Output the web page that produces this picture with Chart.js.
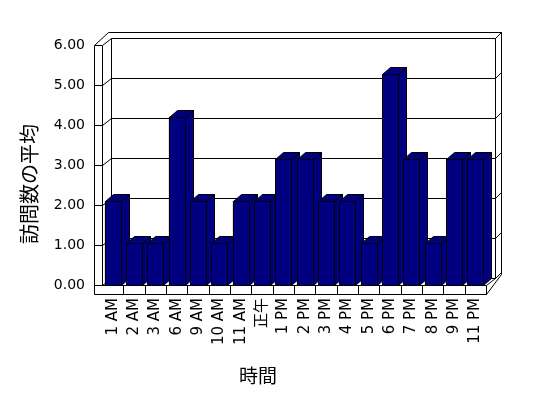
<!DOCTYPE html>
<html lang="ja">
<head>
<meta charset="utf-8">
<title>訪問数の平均</title>
<script src="https://cdn.jsdelivr.net/npm/chart.js@4.4.1/dist/chart.umd.min.js"></script>
<style>
  html, body { margin: 0; padding: 0; background: #fff; }
  canvas { display: block; }
</style>
</head>
<body>
<canvas id="chart" width="548" height="398"></canvas>
<script>
// hours of the day (x axis)
const hours = ["1 AM", "2 AM", "3 AM", "6 AM", "9 AM", "10 AM", "11 AM", "正午",
  "1 PM", "2 PM", "3 PM", "4 PM", "5 PM", "6 PM", "7 PM", "8 PM", "9 PM", "11 PM"];
// average number of visits
const avgVisits = [2, 1, 1, 4, 2, 1, 2, 2, 3, 3, 2, 2, 1, 5, 3, 1, 3, 3];
// value axis
const yMin = 0;
const yMax = 6;
const yStep = 1;
const yTitle = "訪問数の平均";
const xTitle = "時間";

const NAVY = "#000080";
const WALL = { dx: 9, dy: -7 };  // depth of the side / back walls
const SLAB = 6;                  // thickness of the back wall
const STRIP = 8;                 // front edge of left wall and floor
const BAR = { dx: 8, dy: -7 };   // depth of each bar

const px = v => Math.round(v) + 0.5;

function seg(ctx, x1, y1, x2, y2) {
  ctx.moveTo(px(x1), px(y1));
  ctx.lineTo(px(x2), px(y2));
}

// ------------------------------------------------
// 3D walls, floor and gridlines (behind the bars)
// ------------------------------------------------
const frame3d = {
  id: "frame3d",
  beforeDatasetsDraw(chart) {
    const { ctx, chartArea: a, scales } = chart;
    const yS = scales.y, xS = scales.x;
    const L = a.left, R = a.right, T = a.top, B = a.bottom;
    const bL = L + WALL.dx, bR = R + WALL.dx, bT = T + WALL.dy, bB = B + WALL.dy;

    ctx.save();
    ctx.strokeStyle = "#000";
    ctx.lineWidth = 1;
    ctx.beginPath();

    // back wall face
    seg(ctx, bL, bT, bL, bB);
    seg(ctx, bR, bT, bR, bB);
    seg(ctx, bL, bB, bR, bB);
    // back wall slab (top and right thickness)
    seg(ctx, bL - 3, bT - SLAB, bR + SLAB, bT - SLAB);
    seg(ctx, bR, bT, bR + SLAB, bT - SLAB);
    seg(ctx, bR + SLAB, bT - SLAB, bR + SLAB, bB - SLAB + 2);

    // gridlines on the back wall + left wall + slab
    yS.ticks.forEach(t => {
      const yf = yS.getPixelForValue(t.value);
      seg(ctx, L, yf, bL, yf + WALL.dy);
      seg(ctx, bL, yf + WALL.dy, bR, yf + WALL.dy);
      seg(ctx, bR, yf + WALL.dy, bR + SLAB, yf + WALL.dy - SLAB);
      seg(ctx, L - STRIP, yf, L, yf);
    });

    // left wall front strip
    seg(ctx, L - STRIP, T, L - STRIP, B + STRIP + 1);
    seg(ctx, L, T, L, B);
    seg(ctx, L - STRIP, T, bL - 3, bT - SLAB);

    // floor front strip
    seg(ctx, L - STRIP, B, R, B);
    seg(ctx, L - STRIP, B + STRIP + 1, R, B + STRIP + 1);
    seg(ctx, R, B, R, B + STRIP + 1);
    seg(ctx, R, B, bR, bB);
    seg(ctx, R, B + STRIP + 1, bR + SLAB, bB - SLAB + 2);
    for (let i = 1; i < hours.length; i++) {
      const xb = (xS.getPixelForValue(i - 1) + xS.getPixelForValue(i)) / 2;
      seg(ctx, xb, B, xb, B + STRIP + 1);
    }
    ctx.stroke();
    ctx.restore();
  },

  // redraw every bar as a box: side, top, then front
  afterDatasetsDraw(chart) {
    const { ctx } = chart;
    const meta = chart.getDatasetMeta(0);
    ctx.save();
    ctx.fillStyle = NAVY;
    ctx.strokeStyle = "#000";
    ctx.lineWidth = 1;
    meta.data.forEach(bar => {
      const { x, y, base, width } = bar.getProps(["x", "y", "base", "width"], true);
      const x1 = px(x - width / 2), x2 = px(x + width / 2);
      const top = px(y), bot = px(base);
      const dx = BAR.dx, dy = BAR.dy;

      ctx.beginPath();
      ctx.moveTo(x2, bot);
      ctx.lineTo(x2, top);
      ctx.lineTo(x2 + dx, top + dy);
      ctx.lineTo(x2 + dx, bot + dy);
      ctx.closePath();
      ctx.fill();
      ctx.stroke();

      ctx.beginPath();
      ctx.moveTo(x1, top);
      ctx.lineTo(x2, top);
      ctx.lineTo(x2 + dx, top + dy);
      ctx.lineTo(x1 + dx, top + dy);
      ctx.closePath();
      ctx.fill();
      ctx.stroke();

      ctx.beginPath();
      ctx.rect(x1, top, x2 - x1, bot - top);
      ctx.fill();
      ctx.stroke();
    });
    ctx.restore();
  },

  // axis titles
  afterDraw(chart) {
    const { ctx } = chart;
    ctx.save();
    ctx.fillStyle = "#000";
    ctx.textAlign = "center";
    ctx.textBaseline = "middle";
    ctx.font = "19px 'Noto Sans CJK JP'";
    ctx.fillText(xTitle, 258, 376);
    ctx.translate(29, 184);
    ctx.rotate(-Math.PI / 2);
    ctx.font = "20px 'Noto Sans CJK JP'";
    ctx.fillText(yTitle, 0, 0);
    ctx.restore();
  }
};

Chart.defaults.font.family = "'DejaVu Sans', 'Noto Sans CJK JP', sans-serif";
Chart.defaults.color = "#000";

new Chart(document.getElementById("chart"), {
  type: "bar",
  data: {
    labels: hours,
    datasets: [{
      label: yTitle,
      data: avgVisits,
      yAxisID: "yBar",
      backgroundColor: NAVY,
      borderColor: "#000",
      borderWidth: 1,
      barPercentage: 0.75,
      categoryPercentage: 1
    }]
  },
  options: {
    responsive: false,
    animation: false,
    layout: { padding: { left: 0, right: 62, top: 45, bottom: 0 } },
    plugins: {
      legend: { display: false },
      tooltip: { enabled: false }
    },
    scales: {
      x: {
        grid: { display: false, drawTicks: false },
        border: { display: false },
        ticks: {
          autoSkip: false,
          maxRotation: 90,
          minRotation: 90,
          padding: 13,
          font: { size: 15 }
        },
        afterFit(scale) { scale.height = 113; }
      },
      y: {
        min: yMin,
        max: yMax,
        grid: { display: false, drawTicks: false },
        border: { display: false },
        ticks: {
          stepSize: yStep,
          padding: 17,
          font: { size: 14 },
          callback: v => v.toFixed(2)
        },
        afterFit(scale) { scale.width = 102; }
      },
      // bars stand slightly deeper in the box, so they rise a bit faster
      yBar: {
        display: false,
        min: yMin,
        max: 5.7
      }
    }
  },
  plugins: [frame3d]
});
</script>
</body>
</html>
